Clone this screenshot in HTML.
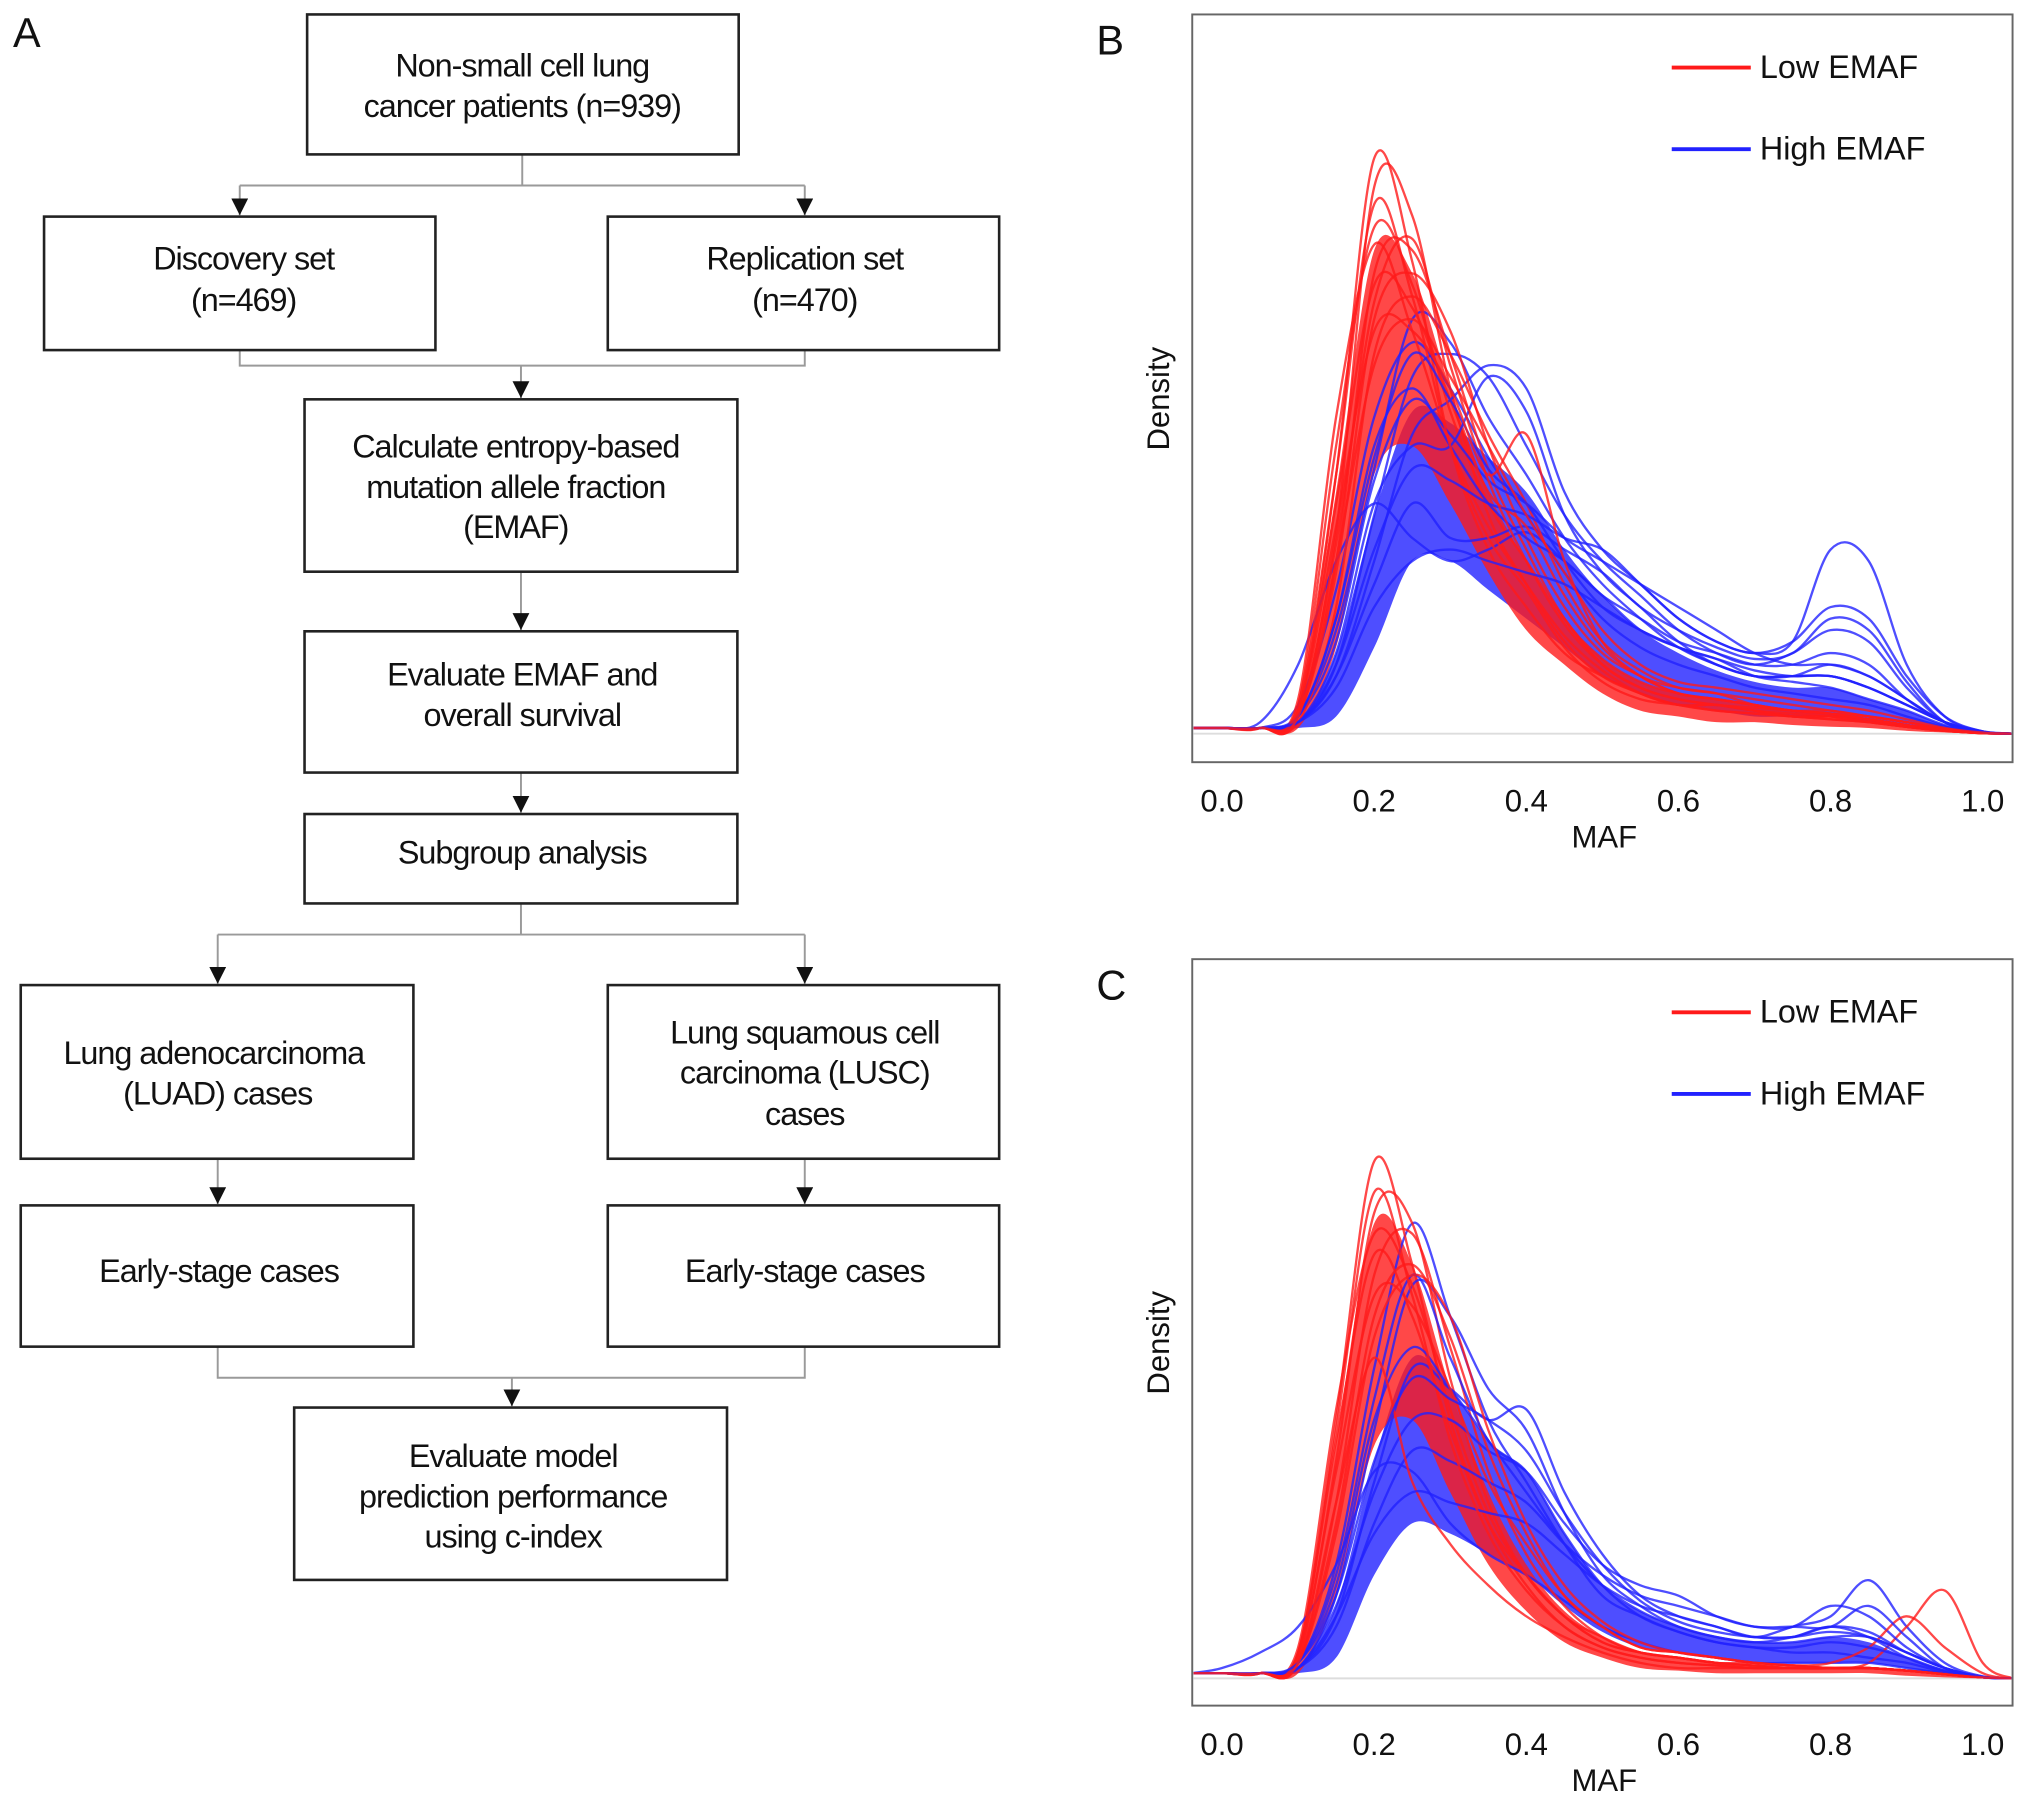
<!DOCTYPE html>
<html><head><meta charset="utf-8"><style>
html,body{margin:0;padding:0;background:#fff}
svg{display:block}
text{font-family:"Liberation Sans",Arial,sans-serif;fill:#111}
.bx{fill:#fff;stroke:#222;stroke-width:2}
.cn{fill:none;stroke:#9a9a9a;stroke-width:1.5}
.ft{font-size:25px;text-anchor:middle;letter-spacing:-0.8px}
.tk{font-size:24px;text-anchor:middle}
</style></head><body>
<svg id="fig" width="2032" height="1803" viewBox="0 0 1568 1391" xmlns="http://www.w3.org/2000/svg">
<defs>
<marker id="ar" viewBox="0 0 10 10" refX="10" refY="5" markerWidth="13" markerHeight="13" markerUnits="userSpaceOnUse" orient="auto"><path d="M0,0L10,5L0,10z" fill="#111"/></marker>
<clipPath id="clipB"><rect x="921" y="12" width="631" height="575"/></clipPath>
<clipPath id="clipC"><rect x="921" y="741" width="631" height="574"/></clipPath>
</defs>
<g>
<text x="10" y="36" style="font-size:32px">A</text>
<path class="cn" d="M403,119V143M185,143H621"/>
<path class="cn" d="M185,143V166" marker-end="url(#ar)"/><path class="cn" d="M621,143V166" marker-end="url(#ar)"/>
<path class="cn" d="M185,270V282H621V270M402,282V307" marker-end="url(#ar)"/>
<path class="cn" d="M402,441V486" marker-end="url(#ar)"/>
<path class="cn" d="M402,596V627" marker-end="url(#ar)"/>
<path class="cn" d="M402,697V721H168M402,721H621"/>
<path class="cn" d="M168,721V759" marker-end="url(#ar)"/><path class="cn" d="M621,721V759" marker-end="url(#ar)"/>
<path class="cn" d="M168,894V929" marker-end="url(#ar)"/>
<path class="cn" d="M621,894V929" marker-end="url(#ar)"/>
<path class="cn" d="M168,1039V1063H621V1039M395,1063V1085" marker-end="url(#ar)"/>

<g><rect class="bx" x="237" y="11" width="333" height="108"/>
<text class="ft" x="403" y="59">Non-small cell lung</text><text class="ft" x="403" y="90">cancer patients (n=939)</text></g>
<g><rect class="bx" x="34" y="167" width="302" height="103"/>
<text class="ft" x="188" y="208">Discovery set</text><text class="ft" x="188" y="240">(n=469)</text></g>
<g><rect class="bx" x="469" y="167" width="302" height="103"/>
<text class="ft" x="621" y="208">Replication set</text><text class="ft" x="621" y="240">(n=470)</text></g>
<g><rect class="bx" x="235" y="308" width="334" height="133"/>
<text class="ft" x="398" y="353">Calculate entropy-based</text><text class="ft" x="398" y="384">mutation allele fraction</text><text class="ft" x="398" y="415">(EMAF)</text></g>
<g><rect class="bx" x="235" y="487" width="334" height="109"/>
<text class="ft" x="403" y="529">Evaluate EMAF and</text><text class="ft" x="403" y="560">overall survival</text></g>
<g><rect class="bx" x="235" y="628" width="334" height="69"/>
<text class="ft" x="403" y="666">Subgroup analysis</text></g>
<g><rect class="bx" x="16" y="760" width="303" height="134"/>
<text class="ft" x="165" y="821">Lung adenocarcinoma</text><text class="ft" x="168" y="852">(LUAD) cases</text></g>
<g><rect class="bx" x="469" y="760" width="302" height="134"/>
<text class="ft" x="621" y="805">Lung squamous cell</text><text class="ft" x="621" y="836">carcinoma (LUSC)</text><text class="ft" x="621" y="868">cases</text></g>
<g><rect class="bx" x="16" y="930" width="303" height="109"/>
<text class="ft" x="169" y="989">Early-stage cases</text></g>
<g><rect class="bx" x="469" y="930" width="302" height="109"/>
<text class="ft" x="621" y="989">Early-stage cases</text></g>
<g><rect class="bx" x="227" y="1086" width="334" height="133"/>
<text class="ft" x="396" y="1132">Evaluate model</text><text class="ft" x="396" y="1163">prediction performance</text><text class="ft" x="396" y="1194">using c-index</text></g>
</g>
<g id="panelB"></g>
<g id="panelC"></g>
</svg>
<script>
const gridX = [-0.04,0,0.05,0.1,0.15,0.2,0.25,0.3,0.35,0.4,0.45,0.5,0.55,0.6,0.65,0.7,0.75,0.8,0.85,0.9,0.95,1.0,1.04];
const xTicks = [0,0.2,0.4,0.6,0.8,1.0];
const xTickLabels = ["0.0","0.2","0.4","0.6","0.8","1.0"];

const lowB = [
[0.01,0.01,0.01,0.04,0.45,1.0,0.82,0.5,0.32,0.22,0.14,0.1,0.07,0.05,0.05,0.04,0.035,0.03,0.02,0.012,0.005,0.001,0],
[0.01,0.01,0.01,0.03,0.35,0.95,0.9,0.6,0.38,0.26,0.16,0.1,0.07,0.05,0.04,0.035,0.03,0.025,0.02,0.012,0.005,0.001,0],
[0.01,0.01,0.01,0.05,0.5,0.88,0.78,0.56,0.4,0.3,0.2,0.12,0.08,0.06,0.05,0.04,0.03,0.03,0.025,0.015,0.006,0.001,0],
[0.01,0.01,0.01,0.03,0.3,0.8,0.84,0.66,0.46,0.32,0.2,0.13,0.09,0.07,0.06,0.05,0.04,0.035,0.025,0.015,0.006,0.001,0],
[0.01,0.01,0.01,0.06,0.55,0.85,0.7,0.5,0.36,0.26,0.17,0.11,0.07,0.05,0.05,0.04,0.03,0.03,0.02,0.012,0.005,0.001,0],
[0.01,0.01,0.01,0.03,0.28,0.72,0.8,0.7,0.5,0.34,0.22,0.14,0.1,0.07,0.06,0.05,0.04,0.035,0.03,0.02,0.008,0.002,0],
[0.01,0.01,0.01,0.04,0.4,0.78,0.74,0.58,0.42,0.36,0.24,0.15,0.1,0.08,0.07,0.05,0.04,0.04,0.03,0.02,0.008,0.002,0],
[0.01,0.01,0.01,0.02,0.22,0.66,0.76,0.66,0.52,0.4,0.26,0.16,0.11,0.08,0.07,0.06,0.05,0.04,0.03,0.02,0.008,0.002,0],
[0.01,0.01,0.01,0.05,0.45,0.92,0.76,0.5,0.34,0.25,0.15,0.09,0.06,0.05,0.04,0.035,0.03,0.025,0.02,0.012,0.005,0.001,0],
[0.01,0.01,0.01,0.03,0.33,0.75,0.86,0.64,0.44,0.3,0.19,0.12,0.08,0.06,0.05,0.045,0.04,0.035,0.025,0.015,0.006,0.001,0],
[0.01,0.01,0.01,0.04,0.36,0.7,0.7,0.6,0.45,0.52,0.3,0.16,0.1,0.07,0.06,0.05,0.04,0.035,0.025,0.015,0.006,0.001,0],
[0.01,0.01,0.01,0.03,0.3,0.64,0.72,0.62,0.5,0.38,0.28,0.18,0.12,0.09,0.08,0.07,0.06,0.05,0.04,0.025,0.01,0.002,0]
];
const highB = [
[0.01,0.01,0.01,0.03,0.18,0.46,0.72,0.68,0.55,0.45,0.34,0.26,0.2,0.15,0.12,0.1,0.1,0.1,0.08,0.05,0.02,0.004,0],
[0.01,0.01,0.01,0.02,0.12,0.38,0.62,0.66,0.62,0.5,0.38,0.3,0.24,0.18,0.14,0.12,0.14,0.18,0.16,0.08,0.02,0.003,0],
[0.01,0.01,0.01,0.02,0.1,0.3,0.52,0.58,0.64,0.6,0.42,0.32,0.26,0.2,0.16,0.14,0.16,0.32,0.3,0.12,0.03,0.004,0],
[0.01,0.01,0.01,0.05,0.25,0.55,0.68,0.6,0.48,0.38,0.28,0.2,0.15,0.12,0.1,0.08,0.07,0.06,0.05,0.03,0.012,0.002,0],
[0.01,0.01,0.02,0.12,0.3,0.4,0.34,0.3,0.32,0.35,0.3,0.24,0.18,0.15,0.13,0.11,0.1,0.1,0.08,0.05,0.02,0.003,0],
[0.01,0.01,0.01,0.02,0.1,0.26,0.4,0.34,0.34,0.36,0.32,0.28,0.22,0.18,0.15,0.13,0.14,0.2,0.18,0.09,0.02,0.003,0],
[0.01,0.01,0.01,0.03,0.16,0.44,0.58,0.52,0.44,0.4,0.34,0.3,0.26,0.22,0.18,0.14,0.12,0.12,0.1,0.06,0.02,0.003,0],
[0.01,0.01,0.01,0.02,0.14,0.4,0.5,0.5,0.62,0.56,0.38,0.28,0.22,0.16,0.12,0.1,0.1,0.12,0.1,0.06,0.02,0.003,0],
[0.01,0.01,0.01,0.03,0.2,0.5,0.6,0.5,0.4,0.34,0.3,0.24,0.2,0.16,0.14,0.12,0.12,0.14,0.12,0.06,0.02,0.003,0],
[0.01,0.01,0.01,0.02,0.12,0.32,0.46,0.44,0.4,0.38,0.34,0.32,0.26,0.2,0.16,0.14,0.16,0.22,0.2,0.1,0.03,0.004,0],
[0.01,0.01,0.01,0.03,0.2,0.48,0.66,0.58,0.46,0.4,0.3,0.22,0.18,0.15,0.13,0.1,0.09,0.08,0.06,0.04,0.015,0.002,0],
[0.01,0.01,0.01,0.02,0.08,0.22,0.3,0.32,0.3,0.28,0.26,0.22,0.18,0.15,0.12,0.1,0.1,0.1,0.08,0.05,0.02,0.003,0]
];
const lowBandUpperB = [0.01,0.01,0.01,0.04,0.42,0.84,0.8,0.6,0.42,0.3,0.2,0.13,0.09,0.07,0.06,0.05,0.04,0.035,0.025,0.015,0.006,0.001,0];
const lowBandLowerB = [0.01,0.01,0.01,0.01,0.15,0.45,0.5,0.4,0.28,0.18,0.12,0.07,0.04,0.03,0.02,0.02,0.015,0.012,0.01,0.005,0.002,0,0];
const highBandUpperB = [0.01,0.01,0.01,0.02,0.14,0.38,0.56,0.54,0.48,0.42,0.32,0.24,0.18,0.14,0.11,0.09,0.08,0.08,0.06,0.04,0.015,0.002,0];
const highBandLowerB = [0.01,0.01,0.01,0.01,0.03,0.15,0.3,0.3,0.25,0.2,0.15,0.1,0.07,0.05,0.04,0.03,0.03,0.03,0.02,0.01,0.005,0,0];

const lowC = [
[0.01,0.01,0.01,0.05,0.5,1.0,0.8,0.5,0.3,0.18,0.1,0.06,0.04,0.03,0.025,0.02,0.02,0.02,0.02,0.015,0.01,0.002,0],
[0.01,0.01,0.01,0.04,0.42,0.9,0.88,0.58,0.34,0.2,0.12,0.07,0.05,0.04,0.03,0.025,0.02,0.02,0.02,0.015,0.008,0.002,0],
[0.01,0.01,0.01,0.06,0.52,0.86,0.76,0.52,0.32,0.2,0.12,0.08,0.05,0.04,0.03,0.025,0.02,0.02,0.03,0.1,0.17,0.03,0],
[0.01,0.01,0.01,0.03,0.34,0.78,0.86,0.64,0.4,0.24,0.14,0.08,0.05,0.04,0.03,0.025,0.02,0.02,0.02,0.015,0.008,0.002,0],
[0.01,0.01,0.01,0.05,0.46,0.82,0.7,0.48,0.3,0.2,0.12,0.07,0.05,0.04,0.03,0.03,0.025,0.03,0.06,0.12,0.06,0.01,0],
[0.01,0.01,0.01,0.03,0.3,0.7,0.8,0.66,0.44,0.28,0.16,0.1,0.06,0.05,0.04,0.03,0.025,0.02,0.02,0.015,0.008,0.002,0],
[0.01,0.01,0.01,0.04,0.4,0.74,0.72,0.56,0.38,0.26,0.16,0.1,0.06,0.05,0.04,0.03,0.025,0.02,0.02,0.015,0.008,0.002,0],
[0.01,0.01,0.01,0.03,0.34,0.62,0.38,0.26,0.18,0.12,0.08,0.05,0.03,0.02,0.02,0.02,0.02,0.02,0.02,0.015,0.008,0.002,0],
[0.01,0.01,0.01,0.05,0.48,0.94,0.74,0.46,0.28,0.17,0.1,0.06,0.04,0.03,0.025,0.02,0.02,0.02,0.02,0.015,0.008,0.002,0],
[0.01,0.01,0.01,0.03,0.28,0.66,0.78,0.7,0.48,0.3,0.18,0.11,0.07,0.05,0.04,0.03,0.025,0.02,0.02,0.015,0.008,0.002,0]
];
const highC = [
[0.01,0.01,0.01,0.03,0.22,0.6,0.88,0.7,0.5,0.38,0.26,0.16,0.12,0.09,0.07,0.06,0.05,0.05,0.04,0.03,0.012,0.002,0],
[0.01,0.01,0.01,0.02,0.16,0.48,0.76,0.7,0.56,0.48,0.32,0.2,0.14,0.1,0.08,0.07,0.07,0.08,0.08,0.05,0.02,0.003,0],
[0.01,0.01,0.01,0.02,0.12,0.38,0.6,0.56,0.5,0.52,0.36,0.24,0.16,0.12,0.1,0.08,0.1,0.12,0.19,0.1,0.03,0.004,0],
[0.01,0.02,0.05,0.1,0.22,0.4,0.4,0.3,0.24,0.2,0.15,0.1,0.07,0.05,0.04,0.03,0.03,0.03,0.03,0.02,0.01,0.002,0],
[0.01,0.01,0.01,0.02,0.14,0.36,0.5,0.5,0.44,0.4,0.3,0.22,0.18,0.16,0.12,0.1,0.1,0.14,0.12,0.06,0.02,0.003,0],
[0.01,0.01,0.01,0.03,0.18,0.5,0.64,0.56,0.46,0.36,0.26,0.18,0.13,0.1,0.08,0.07,0.08,0.1,0.08,0.04,0.015,0.002,0],
[0.01,0.01,0.01,0.02,0.1,0.3,0.44,0.42,0.38,0.34,0.26,0.2,0.16,0.14,0.12,0.1,0.1,0.1,0.14,0.08,0.02,0.003,0],
[0.01,0.01,0.01,0.03,0.2,0.54,0.78,0.62,0.46,0.4,0.28,0.18,0.12,0.09,0.07,0.06,0.06,0.07,0.06,0.04,0.015,0.002,0],
[0.01,0.01,0.01,0.02,0.12,0.28,0.36,0.34,0.32,0.3,0.24,0.18,0.14,0.12,0.1,0.08,0.08,0.1,0.09,0.05,0.02,0.003,0],
[0.01,0.01,0.01,0.03,0.16,0.42,0.58,0.54,0.5,0.44,0.32,0.22,0.15,0.11,0.09,0.08,0.08,0.09,0.08,0.05,0.02,0.003,0]
];
const lowBandUpperC = [0.01,0.01,0.01,0.05,0.46,0.88,0.8,0.56,0.36,0.22,0.13,0.08,0.05,0.04,0.03,0.025,0.02,0.02,0.02,0.015,0.008,0.002,0];
const lowBandLowerC = [0.01,0.01,0.01,0.01,0.16,0.45,0.5,0.36,0.22,0.13,0.07,0.04,0.02,0.015,0.01,0.01,0.01,0.01,0.01,0.005,0.002,0,0];
const highBandUpperC = [0.01,0.01,0.01,0.02,0.14,0.42,0.62,0.56,0.46,0.4,0.28,0.18,0.13,0.1,0.08,0.07,0.07,0.08,0.07,0.04,0.015,0.002,0];
const highBandLowerC = [0.01,0.01,0.01,0.01,0.04,0.2,0.3,0.28,0.24,0.2,0.14,0.09,0.06,0.05,0.04,0.03,0.03,0.03,0.03,0.02,0.008,0,0];

const NS = "http://www.w3.org/2000/svg";
const RED = "#ff1a1a", BLUE = "#2222ff";
function mk(tag, attrs, parent){const e=document.createElementNS(NS,tag);for(const k in attrs)e.setAttribute(k,attrs[k]);parent.appendChild(e);return e;}
function smooth(pts){
  let d="M"+pts[0][0].toFixed(1)+","+pts[0][1].toFixed(1);
  for(let i=0;i<pts.length-1;i++){
    const p0=pts[Math.max(0,i-1)],p1=pts[i],p2=pts[i+1],p3=pts[Math.min(pts.length-1,i+2)];
    const c1=[p1[0]+(p2[0]-p0[0])/6,p1[1]+(p2[1]-p0[1])/6],c2=[p2[0]-(p3[0]-p1[0])/6,p2[1]-(p3[1]-p1[1])/6];
    d+="C"+c1[0].toFixed(1)+","+c1[1].toFixed(1)+" "+c2[0].toFixed(1)+","+c2[1].toFixed(1)+" "+p2[0].toFixed(1)+","+p2[1].toFixed(1);
  }
  return d;
}
function drawPanel(gid, cfg){
  const g=document.getElementById(gid);
  const top=cfg.top, bottom=cfg.bottom, base=cfg.base, unit=cfg.unit;
  const xs=v=>943+v*587, ys=v=>base-v*unit;
  const lbl=mk("text",{x:cfg.labelX,y:cfg.labelY,style:"font-size:32px"},g);lbl.textContent=cfg.label;
  
  
  const plot=mk("g",{"clip-path":"url(#"+cfg.clip+")"},g);
  
  
  mk("line",{x1:920,x2:1553,y1:base,y2:base,stroke:"#dddddd","stroke-width":1.5},plot);
  function band(up,lo,col,name){
    const pu=gridX.map((x,i)=>[xs(x),ys(up[i])]);
    const pl=gridX.map((x,i)=>[xs(x),ys(lo[i])]).reverse();
    const d=smooth(pu)+"L"+smooth(pl).slice(1)+"Z";
    const p=mk("path",{d:d,fill:col,"fill-opacity":0.8,stroke:"none"},plot);
    
    
  }
  band(cfg.hU,cfg.hL,BLUE,'high-emaf-band');
  band(cfg.lU,cfg.lL,RED,'low-emaf-band');
  const n=Math.max(cfg.low.length,cfg.high.length);
  for(let k=0;k<n;k++){
    [[cfg.high,BLUE,'high-emaf-curve'],[cfg.low,RED,'low-emaf-curve']].forEach(([set,col,name])=>{
      if(k>=set.length)return;
      const pts=gridX.map((x,i)=>[xs(x),ys(set[k][i])]);
      const p=mk("path",{d:smooth(pts),fill:"none",stroke:col,"stroke-width":1.8,"stroke-opacity":0.8},plot);
      
      
    });
  }
  const fr=mk("rect",{x:920,y:top,width:633,height:bottom-top,fill:"none",stroke:"#666","stroke-width":1.5},g);
  
  
  xTicks.forEach((v,i)=>{
    const t=mk("text",{class:"tk",x:xs(v),y:bottom+38},g);t.textContent=xTickLabels[i];
    
    
  });
  const xt=mk("text",{class:"tk",x:1238,y:bottom+66},g);xt.textContent="MAF";
  
  
  const yc=(top+bottom)/2+8;
  const yt=mk("text",{class:"tk",x:0,y:0,transform:"translate(902,"+yc+") rotate(-90)"},g);yt.textContent="Density";
  
  
  [[RED,"Low EMAF",cfg.legY],[BLUE,"High EMAF",cfg.legY+63]].forEach(([c,t,y])=>{
    const lg=mk("g",{},g);
    
    
    mk("line",{x1:1290,x2:1351,y1:y,y2:y,stroke:c,"stroke-width":3},lg);
    const tx=mk("text",{x:1358,y:y+8,style:"font-size:25px"},lg);tx.textContent=t;
  });
}
drawPanel("panelB",{top:11,bottom:588,base:566,unit:444,clip:"clipB",label:"B",labelX:846,labelY:42,legY:52,
  low:lowB,high:highB,lU:lowBandUpperB,lL:lowBandLowerB,hU:highBandUpperB,hL:highBandLowerB});
drawPanel("panelC",{top:740,bottom:1316,base:1295,unit:399,clip:"clipC",label:"C",labelX:846,labelY:771,legY:781,
  low:lowC,high:highC,lU:lowBandUpperC,lL:lowBandLowerC,hU:highBandUpperC,hL:highBandLowerC});
</script>
</body></html>
